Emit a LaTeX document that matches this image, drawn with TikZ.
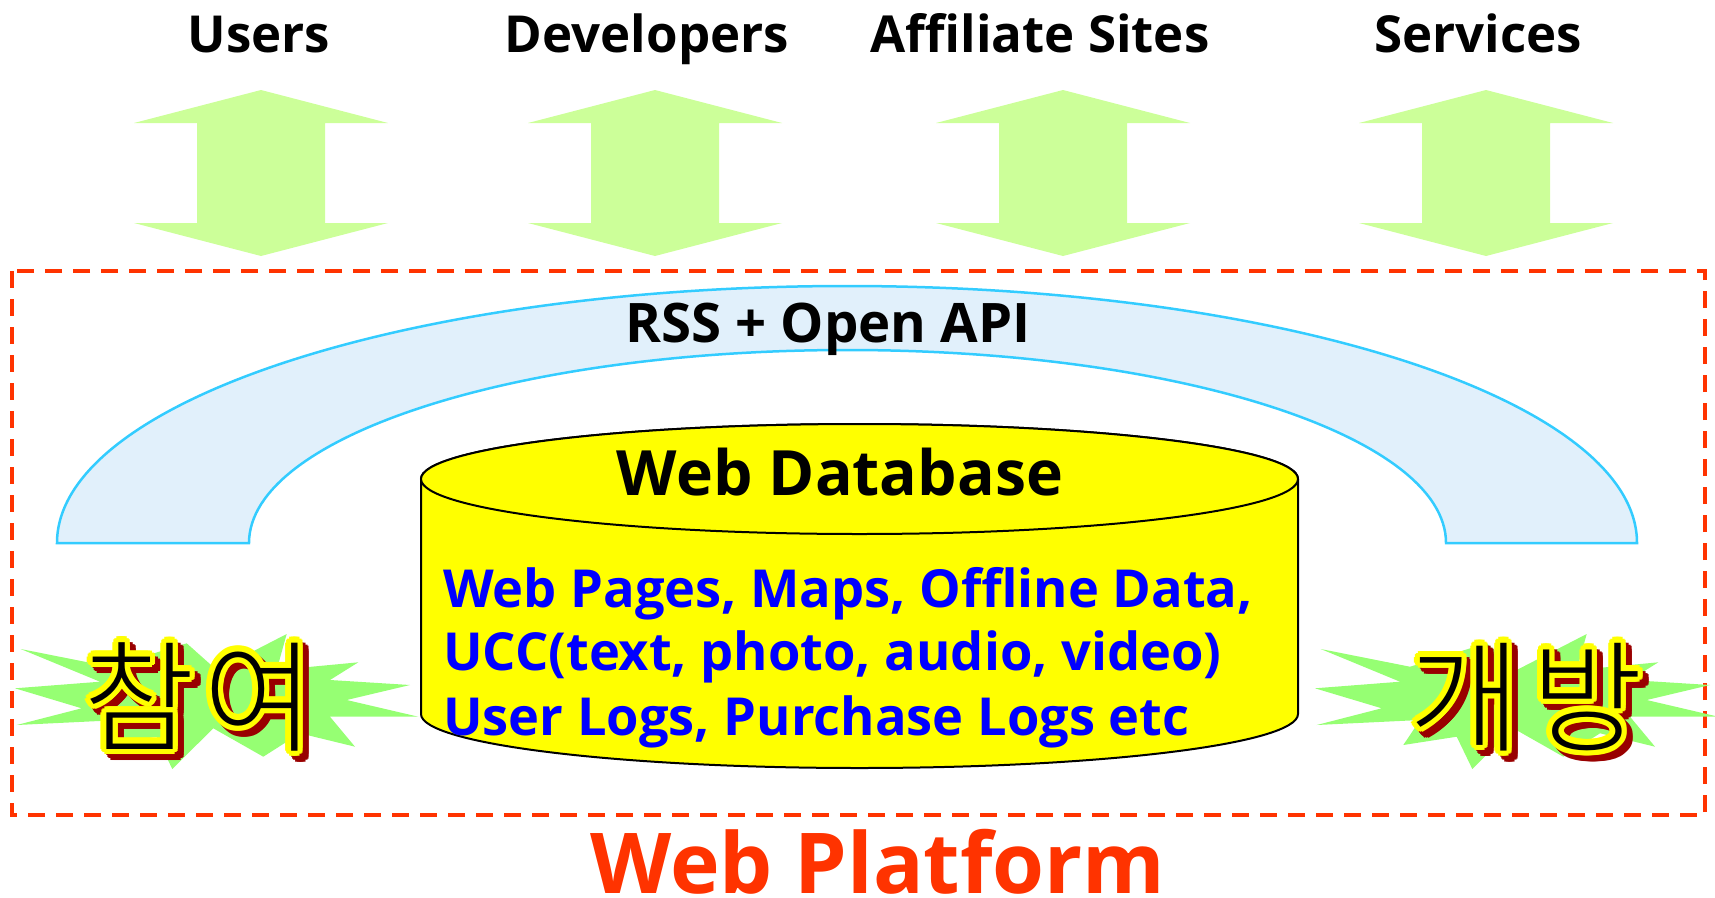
\documentclass[tikz,border=0pt]{standalone}
\usepackage{fontspec}
\setmainfont{Open Sans}
\IfFontExistsTF{Noto Sans CJK KR Light}
  {\newfontfamily\kfont{Noto Sans CJK KR Light}}
  {\IfFontExistsTF{Noto Sans CJK KR DemiLight}
     {\newfontfamily\kfont{Noto Sans CJK KR DemiLight}}
     {\newfontfamily\kfont{Noto Sans CJK KR}}}
\definecolor{platred}{RGB}{255,51,0}
\definecolor{arrowgreen}{RGB}{204,255,153}
\definecolor{archfill}{RGB}{225,240,251}
\definecolor{archline}{RGB}{51,204,255}
\definecolor{stargreen}{RGB}{150,255,115}
\definecolor{dbyellow}{RGB}{255,255,0}
\definecolor{txtblue}{RGB}{0,0,255}
\definecolor{shadowred}{RGB}{153,0,0}
\newcommand\fancyglyph[3]{%
  \foreach \a in {0,22.5,...,337.5} {
    \node[kshadow] at ({#2+6+5.5*cos(\a)},{742+6+5.5*sin(\a)}) {#3};
  }
  \foreach \a in {0,22.5,...,337.5} {
    \node[kyellow] at ({#2+5.5*cos(\a)},{742+5.5*sin(\a)}) {#3};
  }
  \node[kblack] (#1) at (#2,742) {#3};
}
\begin{document}
\begin{tikzpicture}[x=1pt,y=-1pt,
  lbl/.style={inner sep=0pt, anchor=base, font=\bfseries\fontsize{51}{60}\selectfont},
  dblarrow/.style={fill=arrowgreen, draw=none},
  frame/.style={draw=platred, line width=3.5pt, dash pattern=on 17pt off 11pt},
  arch/.style={fill=archfill, draw=archline, line width=2.5pt},
  cyl/.style={fill=dbyellow, draw=black, line width=2pt},
  bluetxt/.style={inner sep=0pt, anchor=base west, text=txtblue, font=\bfseries\fontsize{52.4}{60}\selectfont},
  burst/.style={fill=stargreen, draw=none},
  kbase/.style={inner sep=0pt, anchor=base, font=\kfont\fontsize{121}{130}\selectfont},
  kshadow/.style={kbase, text=shadowred},
  kyellow/.style={kbase, text=dbyellow},
  kblack/.style={kbase, text=black}]
\useasboundingbox (0,0) rectangle (1715,897);

% double arrows
\foreach \cx in {261,655,1063,1486} {
  \fill[dblarrow, shift={(\cx,0)}] (0,90) -- (127,123) -- (64,123) -- (64,223) -- (127,223) -- (0,256)
     -- (-127,223) -- (-64,223) -- (-64,123) -- (-127,123) -- cycle;
}
\node[lbl] (users) at (259,52) {Users};
\node[lbl] (dev) at (647,52) {Developers};
\node[lbl] (aff) at (1040,52) {Affiliate Sites};
\node[lbl] (serv) at (1478,52) {Services};

% frame
\draw[frame] (12,271) rectangle (1705,815);

% arch
\filldraw[arch] (57,543) arc[start angle=180, end angle=360, x radius=790, y radius=257]
  -- (1446,543) arc[start angle=360, end angle=180, x radius=598.5, y radius=193] -- cycle;
\node[lbl, font=\bfseries\fontsize{54.5}{60}\selectfont] (rss) at (828,342) {RSS + Open API};

% starbursts
\foreach \ox in {0,1300} {
  \fill[burst, shift={(\ox,0)}] (15,688.3) -- (100,681.7) -- (20.7,649) -- (110,666.7) -- (186.7,643.3)
   -- (216.7,670) -- (286.7,634) -- (276.7,670) -- (358.3,662.3) -- (330,680) -- (410,685)
   -- (346.7,700) -- (418.3,716.7) -- (330,716.7) -- (355,746.7) -- (300,733.3) -- (263.3,756.7)
   -- (213.3,728.3) -- (172.3,769) -- (156.7,736.7) -- (103.3,745) -- (120,720) -- (16.7,725)
   -- (81.7,708.3) -- cycle;
}

% cylinder
\filldraw[cyl] (421,479) -- (421,714) arc[start angle=180, end angle=0, x radius=438.5, y radius=54]
  -- (1298,479) arc[start angle=0, end angle=-180, x radius=438.5, y radius=55] -- cycle;
\filldraw[cyl] (859.5,479) ellipse[x radius=438.5, y radius=55];
\node[lbl, font=\bfseries\fontsize{62.5}{70}\selectfont] (db) at (840,495) {Web Database};
\node[bluetxt] (l1) at (443,607) {Web Pages, Maps, Offline Data,};
\node[bluetxt] (l2) at (443,670.5) {UCC(text, photo, audio, video)};
\node[bluetxt] (l3) at (443,735) {User Logs, Purchase Logs etc};

% Korean labels
\fancyglyph{cham}{139}{참}
\fancyglyph{yeo}{259}{여}
\fancyglyph{gae}{1465}{개}
\fancyglyph{bang}{1587}{방}

\node[inner sep=0pt, anchor=base, text=platred, font=\bfseries\fontsize{84}{90}\selectfont] (wp) at (878,893) {Web Platform};
\end{tikzpicture}
\end{document}
